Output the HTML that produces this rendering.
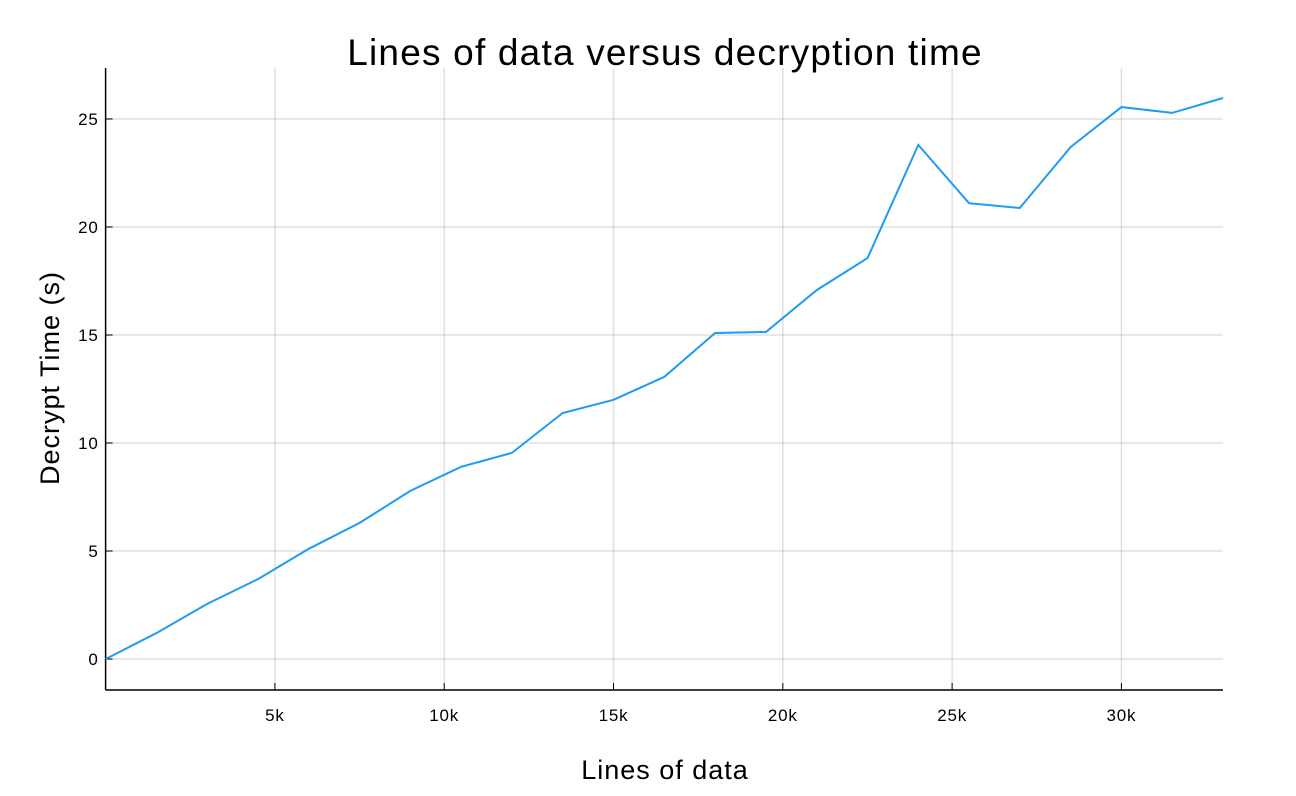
<!DOCTYPE html>
<html><head><meta charset="utf-8"><style>
html,body{margin:0;padding:0;background:#fff;}
svg{display:block;font-family:"Liberation Sans",Arial,sans-serif;}
</style></head><body>
<svg id="chart" width="1296" height="796" viewBox="0 0 1296 796" xmlns="http://www.w3.org/2000/svg">
<text x="665" y="65" font-size="37" letter-spacing="1.2" text-anchor="middle" fill="#000">Lines of data versus decryption time</text>
<g id="grid"></g>
<g id="axes"></g>
<path id="line" fill="none" stroke="#1f9bf0" stroke-width="2"/>
<text x="665" y="779" font-size="27" letter-spacing="1" text-anchor="middle" fill="#000">Lines of data</text>
<text transform="translate(59,378) rotate(-90)" font-size="27" letter-spacing="1" text-anchor="middle" fill="#000">Decrypt Time (s)</text>
</svg>
<script>
const xValues=[0,1500,3000,4500,6000,7500,9000,10500,12000,13500,15000,16500,18000,19500,21000,22500,24000,25500,27000,28500,30000,31500,33000];
const yValues=[0,1.2,2.55,3.7,5.1,6.3,7.78,8.9,9.54,11.39,12.0,13.06,15.09,15.14,17.08,18.56,23.8,21.1,20.88,23.7,25.55,25.28,25.97];
const xTicks=[5000,10000,15000,20000,25000,30000];
const xTickLabels=["5k","10k","15k","20k","25k","30k"];
const yTicks=[0,5,10,15,20,25];
const yTickLabels=["0","5","10","15","20","25"];
const L=105.6,R=1223,T=68,B=690,xMin=0,xMax=33000,yMin=-1.435,yMax=27.36;
const X=v=>L+(v-xMin)/(xMax-xMin)*(R-L);
const Y=v=>B-(v-yMin)/(yMax-yMin)*(B-T);
const NS="http://www.w3.org/2000/svg";
const grid=document.getElementById('grid'),axes=document.getElementById('axes');
function mk(tag,attrs,parent){const e=document.createElementNS(NS,tag);for(const k in attrs)e.setAttribute(k,attrs[k]);parent.appendChild(e);return e;}
xTicks.forEach((t,i)=>{
 const g=mk('line',{x1:X(t),x2:X(t),y1:T,y2:B,stroke:'#000','stroke-opacity':0.12,'stroke-width':1.5},grid);
 
 
 const tk=mk('line',{x1:X(t),x2:X(t),y1:B,y2:B-7,stroke:'#000','stroke-width':1},axes);
 
 
 const tx=mk('text',{x:X(t),y:B+31,'font-size':17,'letter-spacing':0.8,'text-anchor':'middle',fill:'#000'},axes);
 tx.textContent=xTickLabels[i];
 
 
});
yTicks.forEach((t,i)=>{
 const g=mk('line',{x1:L,x2:R,y1:Y(t),y2:Y(t),stroke:'#000','stroke-opacity':0.12,'stroke-width':1.5},grid);
 
 
 const tk=mk('line',{x1:L,x2:L+7,y1:Y(t),y2:Y(t),stroke:'#000','stroke-width':1},axes);
 
 
 const tx=mk('text',{x:L-7,y:Y(t)+6,'font-size':17,'letter-spacing':0.8,'text-anchor':'end',fill:'#000'},axes);
 tx.textContent=yTickLabels[i];
 
 
});
const ya=mk('line',{x1:L,x2:L,y1:T,y2:B,stroke:'#000','stroke-width':1.5},axes);


const xa=mk('line',{x1:L,x2:R,y1:B,y2:B,stroke:'#000','stroke-width':1.5},axes);


document.getElementById('line').setAttribute('d',xValues.map((v,i)=>(i?'L':'M')+X(v).toFixed(1)+','+Y(yValues[i]).toFixed(1)).join(' '));
</script>
</body></html>
